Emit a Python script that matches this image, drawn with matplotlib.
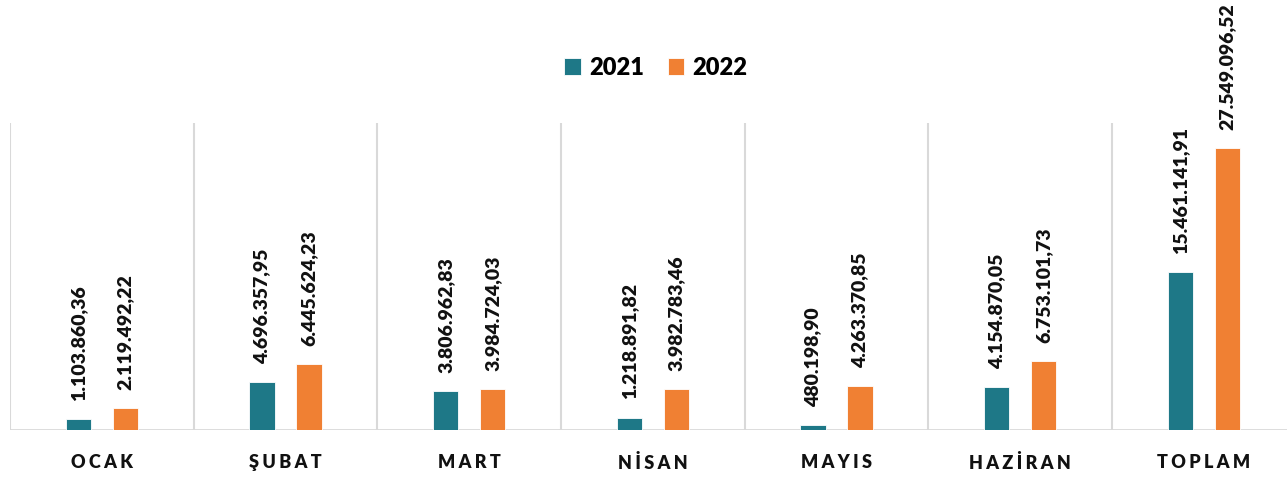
import matplotlib
matplotlib.use("Agg")
import matplotlib.pyplot as plt
import numpy as np

categories = ["OCAK", "ŞUBAT", "MART", "NİSAN", "MAYIS", "HAZİRAN", "TOPLAM"]
series_names = ["2021", "2022"]
values_2021 = [1103860.36, 4696357.95, 3806962.83, 1218891.82, 480198.90, 4154870.05, 15461141.91]
values_2022 = [2119492.22, 6445624.23, 3984724.03, 3982783.46, 4263370.85, 6753101.73, 27549096.52]

colors = ["#1E7887", "#F08033"]
plt.rcParams['font.family'] = ['Lato', 'DejaVu Sans']

W, H = 1287, 480
fig = plt.figure(figsize=(W / 100, H / 100), dpi=100)
ax_left, ax_bottom, ax_top = 10, 430, 123
cat_px = 183.67
ax = fig.add_axes([ax_left / W, 1 - ax_bottom / H, 7 * cat_px / W, (ax_bottom - ax_top) / H])

def tr_fmt(v):
    s = f"{v:,.2f}"
    return s.replace(",", "X").replace(".", ",").replace("X", ".")

x = np.arange(len(categories))
bw = 0.137
off = 0.128
for vals, c, name, sgn in [(values_2021, colors[0], series_names[0], -1), (values_2022, colors[1], series_names[1], 1)]:
    ax.bar(x + sgn * off, vals, width=bw, color=c, edgecolor="white", linewidth=0.6, label=name, zorder=3)
    for xi, v in zip(x + sgn * off, vals):
        ax.annotate(tr_fmt(v), (xi, v), xytext=(0, 13), textcoords="offset points",
                    rotation=90, ha="center", va="bottom", fontsize=14, fontweight="heavy",
                    color="#111111", annotation_clip=False, clip_on=False)

ax.set_xlim(-0.5, 6.5)
ax.set_ylim(0, 30000000)
ax.vlines(np.arange(-0.5, 7.0, 1.0), 0, 30000000, colors="#D9D9D9", linewidth=1.5, zorder=1)
ax.axhline(0, color="#D9D9D9", linewidth=2, zorder=2)
for s in ax.spines.values():
    s.set_visible(False)
ax.set_yticks([])
ax.set_xticks(x)
ax.set_xticklabels(["\u2009\u200a".join(c) for c in categories], fontsize=13, fontweight="heavy", color="#111111")
ax.tick_params(axis="x", length=0, pad=17)

fig.legend(loc="center", bbox_to_anchor=(656 / W, 1 - 68 / H), ncol=2, frameon=False,
           prop={"size": 17, "weight": "heavy"}, handlelength=0.7, handleheight=0.7,
           handletextpad=0.35, columnspacing=1.0)

fig.savefig("out.png", dpi=100)
